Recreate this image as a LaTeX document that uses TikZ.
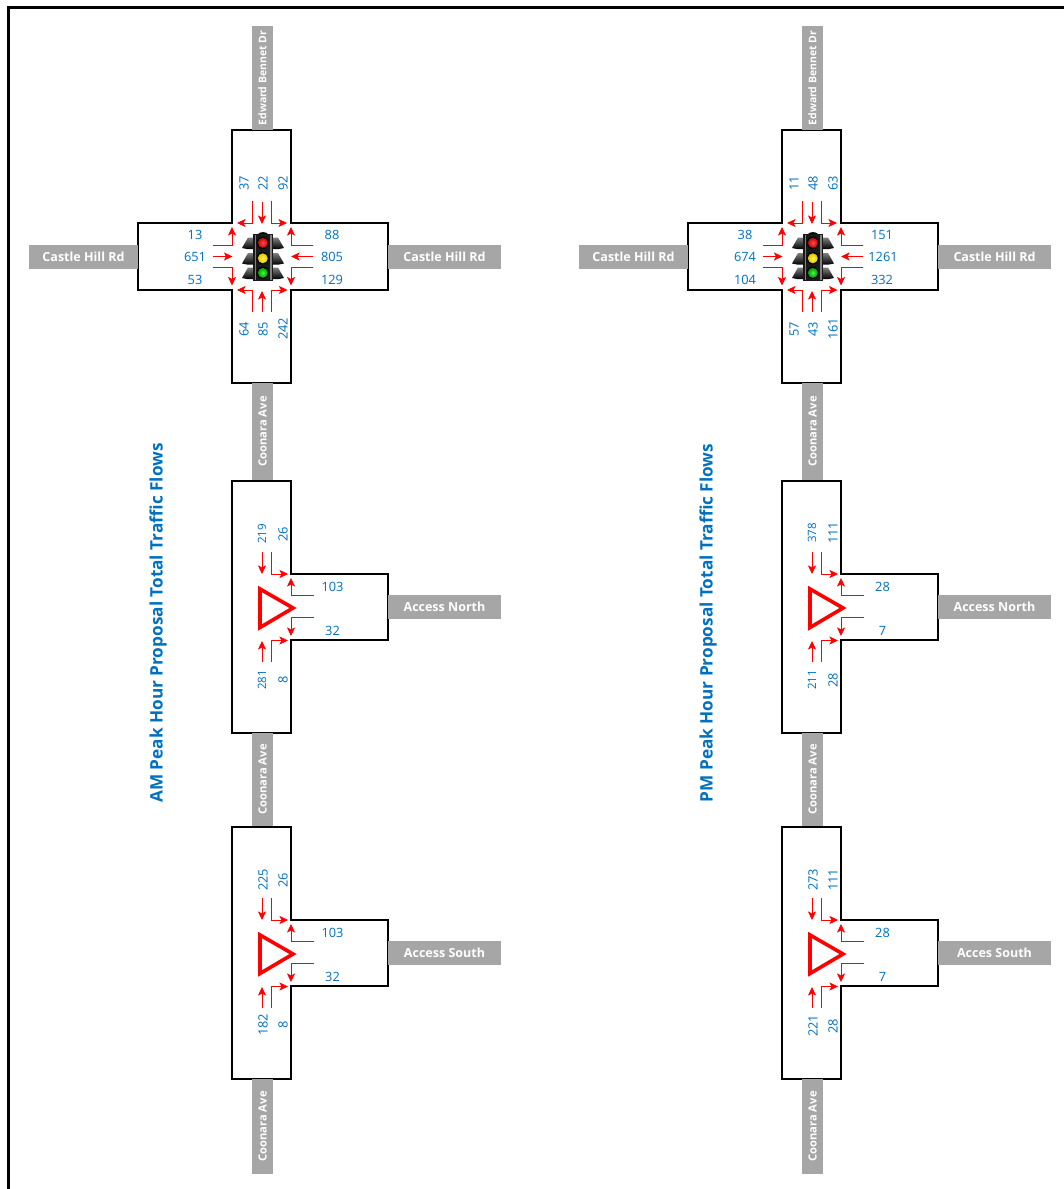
\documentclass[tikz,border=0pt]{standalone}
\usepackage{fontspec}
\setmainfont{Open Sans}
\usetikzlibrary{arrows.meta}
\definecolor{flowblue}{HTML}{0070C0}
\definecolor{roadgray}{HTML}{A6A6A6}
\tikzset{
  x=1pt,y=-1pt,
  frameline/.style={draw=black,line width=2.8pt},
  junction/.style={draw=black,fill=white,line width=2.2pt,line join=miter},
  flow/.style={draw=red,line width=.8pt,-{Stealth[length=8.5pt,width=8pt,inset=2pt]}},
  count/.style={text=flowblue,font=\fontsize{12.8}{13}\selectfont,inner sep=0pt},
  countv/.style={count,rotate=90},
  countsmall/.style={countv,font=\fontsize{11.5}{12}\selectfont},
  road/.style={fill=roadgray,text=white,inner sep=0pt,font=\fontsize{12.5}{13}\bfseries\selectfont},
  roadh/.style={road,minimum height=24pt},
  roadv/.style={road,rotate=90,minimum height=21pt,font=\fontsize{11.2}{12}\bfseries\selectfont},
  roadnarrow/.style={roadv,font=\fontsize{10.5}{11}\bfseries\selectfont},
  headline/.style={rotate=90,text=flowblue,inner sep=0pt,font=\fontsize{17.2}{18}\bfseries\selectfont},
  giveway/.style={draw=red,line width=3.6pt,line join=miter,fill=white}
}
% ---- traffic signal, centred on the crossing
\newcommand{\signalwing}[1]{%
  \shade[top color=black!50,bottom color=black] (242,#1+5) -- (248,#1-5.5) -- (254,#1-5.5) -- (254,#1+6) -- (247,#1+6) -- cycle;
  \shade[top color=black!50,bottom color=black] (284,#1+5) -- (278,#1-5.5) -- (272,#1-5.5) -- (272,#1+6) -- (279,#1+6) -- cycle;
}
\newcommand{\signallamp}[3]{%
  \fill[black] (262.8,#1) circle (6.2);
  \shade[inner color=#3,outer color=#2] (262.8,#1) circle (5);
}
\newcommand{\signalhead}{%
  \signalwing{243}\signalwing{258.5}\signalwing{273}
  \fill[black] (258,234) .. controls (260,231.5) and (266,231.5) .. (268,234) -- cycle;
  \fill[black!90] (253,234) rectangle (273,281);
  \fill[black!50] (254.5,234.5) rectangle (255.8,280);
  \fill[black!50] (270.2,234.5) rectangle (271.5,280);
  \signallamp{242.8}{red!80!black}{red!70!white}
  \signallamp{258.3}{yellow!65!orange!90!black}{yellow!70!white}
  \signallamp{272.8}{green!60!black}{green!75!white}
}
% ---- four-arm crossing
\newcommand{\crossing}{%
  \fill[roadgray] (252,26) rectangle (273,130);
  \draw[junction] (232,130) -- (291,130) -- (291,223) -- (388,223) -- (388,290) -- (291,290) -- (291,383) -- (232,383) -- (232,290) -- (138,290) -- (138,223) -- (232,223) -- cycle;
  \draw[flow] (252.3,201) -- (252.3,223) -- (237,223);
  \draw[flow] (262,202) -- (262,224);
  \draw[flow] (271.5,201) -- (271.5,223) -- (287,223);
  \draw[flow] (213,245.5) -- (232,245.5) -- (232,227);
  \draw[flow] (213,256.5) -- (232.5,256.5);
  \draw[flow] (213,267) -- (232,267) -- (232,285.5);
  \draw[flow] (313,245.5) -- (291,245.5) -- (291,227);
  \draw[flow] (313,256.5) -- (291,256.5);
  \draw[flow] (313,267) -- (291,267) -- (291,285.5);
  \draw[flow] (252.3,312) -- (252.3,290) -- (237,290);
  \draw[flow] (262,311.5) -- (262,291);
  \draw[flow] (271.5,312) -- (271.5,290) -- (287.5,290);
  \signalhead
}
% ---- T junction, #1 = top of the box
\newcommand{\tjunction}[1]{%
  \begin{scope}[yshift=-#1pt]
    \draw[junction] (232,0) -- (291,0) -- (291,93) -- (388,93) -- (388,159) -- (291,159) -- (291,252) -- (232,252) -- cycle;
    \draw[flow] (262,71) -- (262,93);
    \draw[flow] (271.5,71) -- (271.5,93) -- (288,93);
    \draw[flow] (313.5,114) -- (291,114) -- (291,97);
    \draw[flow] (313.5,136.5) -- (291,136.5) -- (291,155);
    \draw[flow] (262,181) -- (262,160);
    \draw[flow] (271.5,181) -- (271.5,159.5) -- (288,159.5);
    \draw[giveway] (260,108) -- (260,146.5) -- (293,127) -- cycle;
  \end{scope}
}
\begin{document}
\begin{tikzpicture}
\useasboundingbox (0,0) rectangle (1064,1189);
\draw[frameline] (8.7,1189) -- (8.7,7.3) -- (1064,7.3);

% ================= AM column =================
\crossing
\tjunction{481}
\tjunction{827}
\node[roadnarrow,minimum width=104pt] (aEB) at (262.5,78) {Edward Bennet Dr};
\node[roadh,minimum width=109pt] (aCHw) at (83.5,257) {Castle Hill Rd};
\node[roadh,minimum width=113pt] (aCHe) at (444.5,257) {Castle Hill Rd};
\node[roadv,minimum width=97pt] (aCoA) at (262.5,431.5) {Coonara Ave};
\node[roadv,minimum width=93pt] (aCoB) at (262.5,779.5) {Coonara Ave};
\node[roadv,minimum width=95pt] (aCoC) at (262.5,1126.5) {Coonara Ave};
\node[roadh,minimum width=113pt] (aAN) at (444.5,607) {Access North};
\node[roadh,minimum width=113pt] (aAS) at (444.5,953) {Access South};
\node[headline] (aTitle) at (158,623) {AM Peak Hour Proposal Total Traffic Flows};

\node[countv] (a1) at (244,183) {37};
\node[countv] (a2) at (263,183) {22};
\node[countv] (a3) at (283,183) {92};
\node[count] (a4) at (195,235) {13};
\node[count] (a5) at (195,257) {651};
\node[count] (a6) at (195,280) {53};
\node[count] (a7) at (332,235) {88};
\node[count] (a8) at (332,257) {805};
\node[count] (a9) at (332,280) {129};
\node[countv] (a10) at (244,329) {64};
\node[countv] (a11) at (263,329) {85};
\node[countv] (a12) at (283,329) {242};

\node[countsmall] (a13) at (262,534) {219};
\node[countv] (a14) at (283,534) {26};
\node[count] (a15) at (332.5,587) {103};
\node[count] (a16) at (332.5,631) {32};
\node[countsmall] (a17) at (262,680) {281};
\node[countv] (a18) at (283,680) {8};

\node[countv] (a19) at (263,880) {225};
\node[countv] (a20) at (283,880) {26};
\node[count] (a21) at (332.5,933) {103};
\node[count] (a22) at (332.5,977) {32};
\node[countv] (a23) at (263,1025) {182};
\node[countv] (a24) at (283,1025) {8};

% ================= PM column =================
\begin{scope}[xshift=550pt]
\crossing
\tjunction{481}
\tjunction{827}
\node[roadnarrow,minimum width=104pt] (pEB) at (262.5,78) {Edward Bennet Dr};
\node[roadh,minimum width=109pt] (pCHw) at (83.5,257) {Castle Hill Rd};
\node[roadh,minimum width=113pt] (pCHe) at (444.5,257) {Castle Hill Rd};
\node[roadv,minimum width=97pt] (pCoA) at (262.5,431.5) {Coonara Ave};
\node[roadv,minimum width=93pt] (pCoB) at (262.5,779.5) {Coonara Ave};
\node[roadv,minimum width=95pt] (pCoC) at (262.5,1126.5) {Coonara Ave};
\node[roadh,minimum width=113pt] (pAN) at (444.5,607) {Access North};
\node[roadh,minimum width=113pt] (pAS) at (444.5,953) {Acces South};
\node[headline] (pTitle) at (158,623) {PM Peak Hour Proposal Total Traffic Flows};

\node[countv] (p1) at (244,183) {11};
\node[countv] (p2) at (263,183) {48};
\node[countv] (p3) at (283,183) {63};
\node[count] (p4) at (195,235) {38};
\node[count] (p5) at (195,257) {674};
\node[count] (p6) at (195,280) {104};
\node[count] (p7) at (332,235) {151};
\node[count] (p8) at (333,257) {1261};
\node[count] (p9) at (332,280) {332};
\node[countv] (p10) at (244,329) {57};
\node[countv] (p11) at (263,329) {43};
\node[countv] (p12) at (283,329) {161};

\node[countsmall] (p13) at (262,533) {378};
\node[countv] (p14) at (283,533) {111};
\node[count] (p15) at (332.5,587) {28};
\node[count] (p16) at (332.5,631) {7};
\node[countsmall] (p17) at (262,680) {211};
\node[countv] (p18) at (283,680) {28};

\node[countv] (p19) at (263,880) {273};
\node[countv] (p20) at (283,880) {111};
\node[count] (p21) at (332.5,933) {28};
\node[count] (p22) at (332.5,977) {7};
\node[countv] (p23) at (263,1026) {221};
\node[countv] (p24) at (283,1026) {28};
\end{scope}
\end{tikzpicture}
\end{document}
